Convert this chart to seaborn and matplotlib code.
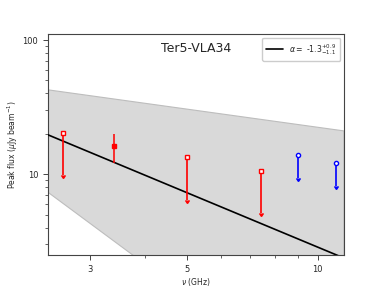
import matplotlib
matplotlib.use("Agg")
import matplotlib.pyplot as plt
import numpy as np
import pandas as pd
import seaborn as sns

sns.set_theme(style="ticks")
plt.rcParams['font.family'] = ['DejaVu Sans']

# upper limits (open markers with downward arrows)
lim_freq = [2.6, 5.0, 7.4, 9.0, 11.0]
lim_flux = [20.3, 13.4, 10.5, 13.9, 12.1]
lim_tip = [9.9, 6.4, 5.1, 9.4, 8.2]
lim_color = ['#ff0000', '#ff0000', '#ff0000', '#0000ff', '#0000ff']
lim_marker = ['s', 's', 's', 'o', 'o']

# detection
det_freq = [3.4]
det_flux = [16.1]
det_err = [4.0]

# power-law fit: S = S5 * (nu / 5 GHz)^slope
fit_s5, fit_slope = 7.3, -1.35
band_hi_s5, band_hi_alpha = 30.6, -0.45
band_lo_s5, band_lo_alpha = 1.26, -2.4

fig = plt.figure(figsize=(3.82, 2.87), dpi=100)
ax = fig.add_axes([0.1257, 0.1115, 0.7748, 0.77])

nu = np.geomspace(2.4, 11.5, 50)
ax.fill_between(nu, band_lo_s5 * (nu / 5) ** band_lo_alpha,
                band_hi_s5 * (nu / 5) ** band_hi_alpha,
                facecolor='#d9d9d9', edgecolor='#bdbdbd', lw=0.8, zorder=1)

fit = pd.DataFrame({'nu': nu, 'S': fit_s5 * (nu / 5) ** fit_slope})
sns.lineplot(data=fit, x='nu', y='S', color='black', lw=1.2, ax=ax, zorder=3,
             label=r'$\alpha=$ -1.3$^{+0.9}_{-1.1}$')

for f, s, t, c, m in zip(lim_freq, lim_flux, lim_tip, lim_color, lim_marker):
    ax.errorbar([f], [s], yerr=[[s - t], [0]], uplims=True, fmt=m, color=c,
                mfc='white', mec=c, ms=3.0, mew=1.0, elinewidth=1.2,
                capsize=1.3, zorder=4)

ax.errorbar(det_freq, det_flux, yerr=det_err, fmt='s', color='#ff0000',
            ms=3.2, elinewidth=1.1, capsize=0, zorder=4)

ax.set_xscale('log')
ax.set_yscale('log')
ax.set_xlim(2.4, 11.5)
ax.set_ylim(2.5, 111)
ax.set_xticks([3, 5, 10])
ax.set_xticklabels(['3', '5', '10'])
ax.xaxis.set_minor_formatter(matplotlib.ticker.NullFormatter())
ax.set_yticks([10, 100])
ax.set_yticklabels(['10', '100'])
ax.yaxis.set_minor_formatter(matplotlib.ticker.NullFormatter())
ax.tick_params(which='major', labelsize=6, length=3.5, width=0.6)
ax.tick_params(which='minor', length=2, width=0.5)
for sp in ax.spines.values():
    sp.set_linewidth(0.8)
    sp.set_color('#444444')

ax.set_xlabel(r'$\nu$ (GHz)', fontsize=5.5, labelpad=2)
ax.set_ylabel(r'Peak flux ($\mu$Jy beam$^{-1}$)', fontsize=5.5, labelpad=2)
ax.text(0.5, 0.965, 'Ter5-VLA34', transform=ax.transAxes, ha='center',
        va='top', fontsize=9)
ax.legend(loc='upper right', fontsize=5.6, handlelength=2.2, borderpad=0.5,
          frameon=True, fancybox=True, framealpha=1, edgecolor='#cccccc')

fig.savefig('out.png', dpi=100)
